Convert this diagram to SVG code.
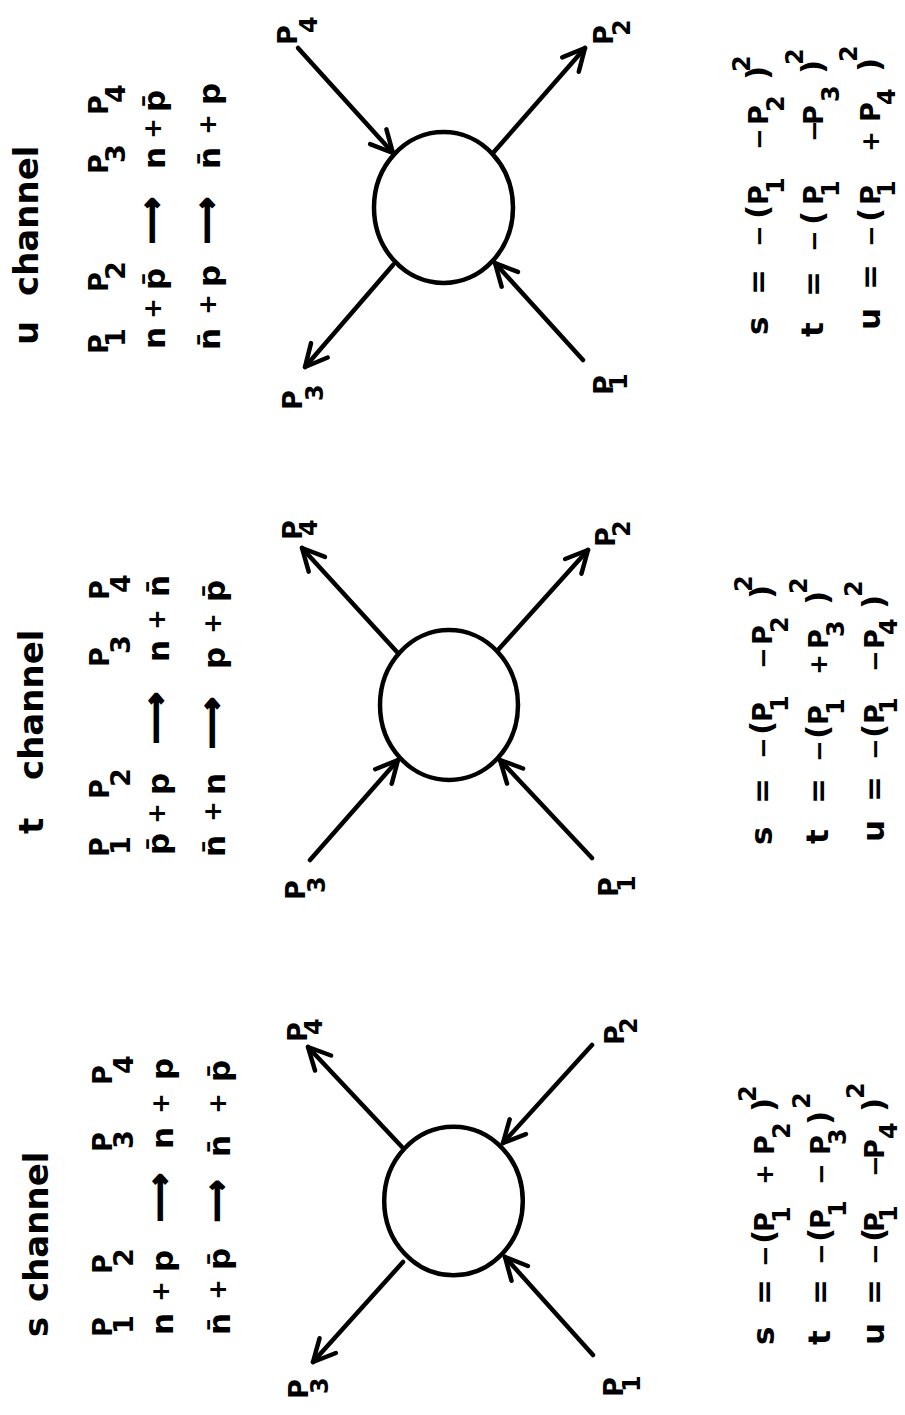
<svg xmlns="http://www.w3.org/2000/svg" width="905" height="1415" viewBox="0 0 905 1415">
<style>
text{font-family:"DejaVu Sans","Liberation Sans",sans-serif;font-weight:bold;fill:#000}
.hd{font-size:34px}
.tx{font-size:31px}
.P{font-size:27px}
.sb{font-size:24px}
.sbt{font-size:27px}
.sp{font-size:24px}
.pl{font-size:25px}
.mn{font-size:26px}
.ar{font-size:31px;stroke:#000;stroke-width:1.8}
.ring{fill:none;stroke:#000;stroke-width:4.5}
.leg{fill:none;stroke:#000;stroke-width:4.5;stroke-linecap:round;marker-end:url(#ah)}
</style>
<defs>
<marker id="ah" markerUnits="userSpaceOnUse" markerWidth="40" markerHeight="40" viewBox="-30 -20 40 40" refX="0" refY="0" orient="auto" overflow="visible">
<path d="M-22,-11 L0,0 L-22,11" fill="none" stroke="#000" stroke-width="4.5" stroke-linecap="round" stroke-linejoin="round"/>
</marker>
</defs>
<rect width="905" height="1415" fill="#fff"/>

<g id="u-vertex"><ellipse class="ring" cx="443.5" cy="207.5" rx="69.5" ry="75.5"/></g>
<g id="t-vertex"><ellipse class="ring" cx="449" cy="705" rx="69" ry="75"/></g>
<g id="s-vertex"><ellipse class="ring" cx="453.5" cy="1201" rx="69.3" ry="74.3"/></g>

<g id="connectors">
<line class="leg" x1="298" y1="48" x2="393" y2="153"/>
<line class="leg" x1="493" y1="153" x2="585" y2="48"/>
<line class="leg" x1="393" y1="265" x2="305" y2="367"/>
<line class="leg" x1="583" y1="360" x2="495" y2="263"/>

<line class="leg" x1="397" y1="652" x2="302" y2="548"/>
<line class="leg" x1="498" y1="650" x2="588" y2="550"/>
<line class="leg" x1="310" y1="860" x2="398" y2="760"/>
<line class="leg" x1="592" y1="858" x2="500" y2="760"/>

<line class="leg" x1="402" y1="1147" x2="308" y2="1047"/>
<line class="leg" x1="592" y1="1045" x2="503" y2="1143"/>
<line class="leg" x1="403" y1="1262" x2="313" y2="1362"/>
<line class="leg" x1="593" y1="1355" x2="505" y2="1257"/>
</g>

<g transform="rotate(-90)">
<!-- u channel -->
<g id="u-table">
<text class="hd"><tspan x="-345" y="38">u</tspan> <tspan x="-296" y="38">channel</tspan></text>
<text class="P"><tspan x="-354" y="108">P</tspan><tspan class="sbt" x="-347" y="125">1</tspan> <tspan x="-292" y="108">P</tspan><tspan class="sbt" x="-280" y="125">2</tspan> <tspan x="-174" y="108">P</tspan><tspan class="sbt" x="-163" y="125">3</tspan> <tspan x="-115" y="108">P</tspan><tspan class="sbt" x="-103" y="125">4</tspan></text>
<text class="tx"><tspan x="-349" y="165">n</tspan> <tspan class="pl" x="-319" y="161">+</tspan> <tspan x="-290" y="165">p̄</tspan></text>
<text class="ar" x="-244" y="162" textLength="47" lengthAdjust="spacingAndGlyphs">⟶</text>
<text class="tx"><tspan x="-169" y="165">n</tspan> <tspan class="pl" x="-139" y="161">+</tspan> <tspan x="-112" y="165">p̄</tspan></text>
<text class="tx"><tspan x="-350" y="220">n̄</tspan> <tspan class="pl" x="-315" y="216">+</tspan> <tspan x="-287" y="220">p</tspan></text>
<text class="ar" x="-244" y="217" textLength="47" lengthAdjust="spacingAndGlyphs">⟶</text>
<text class="tx"><tspan x="-169" y="220">n̄</tspan> <tspan class="pl" x="-135" y="216">+</tspan> <tspan x="-105" y="220">p</tspan></text>
</g>
<g id="u-labels">
<text class="P"><tspan x="-45" y="297">P</tspan><tspan class="sb" x="-33" y="317">4</tspan></text>
<text class="P"><tspan x="-45" y="613">P</tspan><tspan class="sb" x="-36" y="630">2</tspan></text>
<text class="P"><tspan x="-410" y="302">P</tspan><tspan class="sb" x="-401" y="323">3</tspan></text>
<text class="P"><tspan x="-395" y="613">P</tspan><tspan class="sb" x="-390" y="627">1</tspan></text>
</g>
<g id="u-invariants">
<text class="tx"><tspan x="-335" y="768">s</tspan> <tspan x="-295" y="768">=</tspan> <tspan class="mn" x="-247" y="768">−</tspan><tspan x="-219" y="768">(</tspan><tspan class="P" x="-205" y="768">P</tspan><tspan class="sb" x="-194" y="784">1</tspan> <tspan class="mn" x="-150" y="768">−</tspan> <tspan class="P" x="-125" y="768">P</tspan><tspan class="sb" x="-112" y="784">2</tspan><tspan x="-80" y="768">)</tspan><tspan class="sp" x="-72" y="750">2</tspan></text>
<text class="tx"><tspan x="-337" y="823">t</tspan> <tspan x="-297" y="823">=</tspan> <tspan class="mn" x="-252" y="823">−</tspan><tspan x="-225" y="823">(</tspan><tspan class="P" x="-205" y="823">P</tspan><tspan class="sb" x="-197" y="839">1</tspan> <tspan class="mn" x="-142" y="823">−</tspan> <tspan class="P" x="-125" y="823">P</tspan><tspan class="sb" x="-102" y="839">3</tspan><tspan x="-74" y="823">)</tspan><tspan class="sp" x="-65" y="803">2</tspan></text>
<text class="tx"><tspan x="-330" y="880">u</tspan> <tspan x="-290" y="880">=</tspan> <tspan class="mn" x="-247" y="880">−</tspan><tspan x="-222" y="880">(</tspan><tspan class="P" x="-205" y="880">P</tspan><tspan class="sb" x="-197" y="895">1</tspan> <tspan class="pl" x="-152" y="879">+</tspan> <tspan class="P" x="-122" y="880">P</tspan><tspan class="sb" x="-105" y="895">4</tspan><tspan x="-72" y="880">)</tspan><tspan class="sp" x="-62" y="857">2</tspan></text>
</g>

<!-- t channel -->
<g id="t-table">
<text class="hd"><tspan x="-834" y="43">t</tspan> <tspan x="-780" y="43">channel</tspan></text>
<text class="P"><tspan x="-857" y="109">P</tspan><tspan class="sbt" x="-855" y="130">1</tspan> <tspan x="-799" y="109">P</tspan><tspan class="sbt" x="-787" y="130">2</tspan> <tspan x="-667" y="109">P</tspan><tspan class="sbt" x="-654" y="130">3</tspan> <tspan x="-600" y="109">P</tspan><tspan class="sbt" x="-593" y="130">4</tspan></text>
<text class="tx"><tspan x="-855" y="169">p̄</tspan> <tspan class="pl" x="-824" y="165">+</tspan> <tspan x="-795" y="169">p</tspan></text>
<text class="ar" x="-744" y="166" textLength="52" lengthAdjust="spacingAndGlyphs">⟶</text>
<text class="tx"><tspan x="-662" y="169">n</tspan> <tspan class="pl" x="-630" y="165">+</tspan> <tspan x="-597" y="169">n̄</tspan></text>
<text class="tx"><tspan x="-857" y="225">n̄</tspan> <tspan class="pl" x="-822" y="221">+</tspan> <tspan x="-795" y="225">n</tspan></text>
<text class="ar" x="-749" y="222" textLength="52" lengthAdjust="spacingAndGlyphs">⟶</text>
<text class="tx"><tspan x="-669" y="225">p</tspan> <tspan class="pl" x="-634" y="221">+</tspan> <tspan x="-602" y="225">p̄</tspan></text>
</g>
<g id="t-labels">
<text class="P"><tspan x="-540" y="302">P</tspan><tspan class="sb" x="-536" y="317">4</tspan></text>
<text class="P"><tspan x="-547" y="615">P</tspan><tspan class="sb" x="-537" y="630">2</tspan></text>
<text class="P"><tspan x="-900" y="305">P</tspan><tspan class="sb" x="-893" y="325">3</tspan></text>
<text class="P"><tspan x="-897" y="618">P</tspan><tspan class="sb" x="-892" y="635">1</tspan></text>
</g>
<g id="t-invariants">
<text class="tx"><tspan x="-845" y="772">s</tspan> <tspan x="-804" y="772">=</tspan> <tspan class="mn" x="-759" y="772">−</tspan><tspan x="-735" y="772">(</tspan><tspan class="P" x="-722" y="772">P</tspan><tspan class="sb" x="-712" y="788">1</tspan> <tspan class="mn" x="-669" y="772">−</tspan> <tspan class="P" x="-645" y="772">P</tspan><tspan class="sb" x="-633" y="788">2</tspan><tspan x="-599" y="772">)</tspan><tspan class="sp" x="-592" y="752">2</tspan></text>
<text class="tx"><tspan x="-844" y="828">t</tspan> <tspan x="-804" y="828">=</tspan> <tspan class="mn" x="-762" y="828">−</tspan><tspan x="-739" y="828">(</tspan><tspan class="P" x="-725" y="828">P</tspan><tspan class="sb" x="-715" y="844">1</tspan> <tspan class="pl" x="-675" y="827">+</tspan> <tspan class="P" x="-649" y="828">P</tspan><tspan class="sb" x="-637" y="844">3</tspan><tspan x="-605" y="828">)</tspan><tspan class="sp" x="-594" y="807">2</tspan></text>
<text class="tx"><tspan x="-842" y="884">u</tspan> <tspan x="-802" y="884">=</tspan> <tspan class="mn" x="-760" y="884">−</tspan><tspan x="-738" y="884">(</tspan><tspan class="P" x="-724" y="884">P</tspan><tspan class="sb" x="-714" y="897">1</tspan> <tspan class="mn" x="-672" y="884">−</tspan> <tspan class="P" x="-649" y="884">P</tspan><tspan class="sb" x="-635" y="897">4</tspan><tspan x="-609" y="884">)</tspan><tspan class="sp" x="-597" y="862">2</tspan></text>
</g>

<!-- s channel -->
<g id="s-table">
<text class="hd"><tspan x="-1337" y="48">s</tspan> <tspan x="-1302" y="48">channel</tspan></text>
<text class="P"><tspan x="-1337" y="112">P</tspan><tspan class="sbt" x="-1334" y="133">1</tspan> <tspan x="-1274" y="112">P</tspan><tspan class="sbt" x="-1267" y="133">2</tspan> <tspan x="-1152" y="112">P</tspan><tspan class="sbt" x="-1149" y="133">3</tspan> <tspan x="-1085" y="112">P</tspan><tspan class="sbt" x="-1074" y="133">4</tspan></text>
<text class="tx"><tspan x="-1335" y="173">n</tspan> <tspan class="pl" x="-1302" y="169">+</tspan> <tspan x="-1272" y="173">p</tspan></text>
<text class="ar" x="-1222" y="170" textLength="49" lengthAdjust="spacingAndGlyphs">⟶</text>
<text class="tx"><tspan x="-1149" y="173">n</tspan> <tspan class="pl" x="-1114" y="169">+</tspan> <tspan x="-1080" y="173">p</tspan></text>
<text class="tx"><tspan x="-1335" y="230">n̄</tspan> <tspan class="pl" x="-1300" y="226">+</tspan> <tspan x="-1270" y="230">p̄</tspan></text>
<text class="ar" x="-1222" y="227" textLength="42" lengthAdjust="spacingAndGlyphs">⟶</text>
<text class="tx"><tspan x="-1157" y="230">n̄</tspan> <tspan class="pl" x="-1114" y="226">+</tspan> <tspan x="-1082" y="230">p̄</tspan></text>
</g>
<g id="s-labels">
<text class="P"><tspan x="-1042" y="307">P</tspan><tspan class="sb" x="-1035" y="322">4</tspan></text>
<text class="P"><tspan x="-1045" y="624">P</tspan><tspan class="sb" x="-1034" y="637">2</tspan></text>
<text class="P"><tspan x="-1399" y="308">P</tspan><tspan class="sb" x="-1394" y="328">3</tspan></text>
<text class="P"><tspan x="-1397" y="623">P</tspan><tspan class="sb" x="-1392" y="640">1</tspan></text>
</g>
<g id="s-invariants">
<text class="tx"><tspan x="-1345" y="774">s</tspan> <tspan x="-1305" y="774">=</tspan> <tspan class="mn" x="-1267" y="774">−</tspan><tspan x="-1244" y="774">(</tspan><tspan class="P" x="-1232" y="774">P</tspan><tspan class="sb" x="-1223" y="790">1</tspan> <tspan class="pl" x="-1185" y="773">+</tspan> <tspan class="P" x="-1155" y="774">P</tspan><tspan class="sb" x="-1139" y="790">2</tspan><tspan x="-1112" y="774">)</tspan><tspan class="sp" x="-1102" y="756">2</tspan></text>
<text class="tx"><tspan x="-1345" y="830">t</tspan> <tspan x="-1305" y="830">=</tspan> <tspan class="mn" x="-1265" y="830">−</tspan><tspan x="-1242" y="830">(</tspan><tspan class="P" x="-1229" y="830">P</tspan><tspan class="sb" x="-1217" y="846">1</tspan> <tspan class="mn" x="-1185" y="830">−</tspan> <tspan class="P" x="-1155" y="830">P</tspan><tspan class="sb" x="-1145" y="846">3</tspan><tspan x="-1125" y="830">)</tspan><tspan class="sp" x="-1109" y="810">2</tspan></text>
<text class="tx"><tspan x="-1345" y="884">u</tspan> <tspan x="-1305" y="884">=</tspan> <tspan class="mn" x="-1265" y="884">−</tspan><tspan x="-1242" y="884">(</tspan><tspan class="P" x="-1232" y="884">P</tspan><tspan class="sb" x="-1222" y="897">1</tspan> <tspan class="mn" x="-1177" y="884">−</tspan> <tspan class="P" x="-1159" y="884">P</tspan><tspan class="sb" x="-1139" y="897">4</tspan><tspan x="-1112" y="884">)</tspan><tspan class="sp" x="-1099" y="864">2</tspan></text>
</g>
</g>
</svg>
